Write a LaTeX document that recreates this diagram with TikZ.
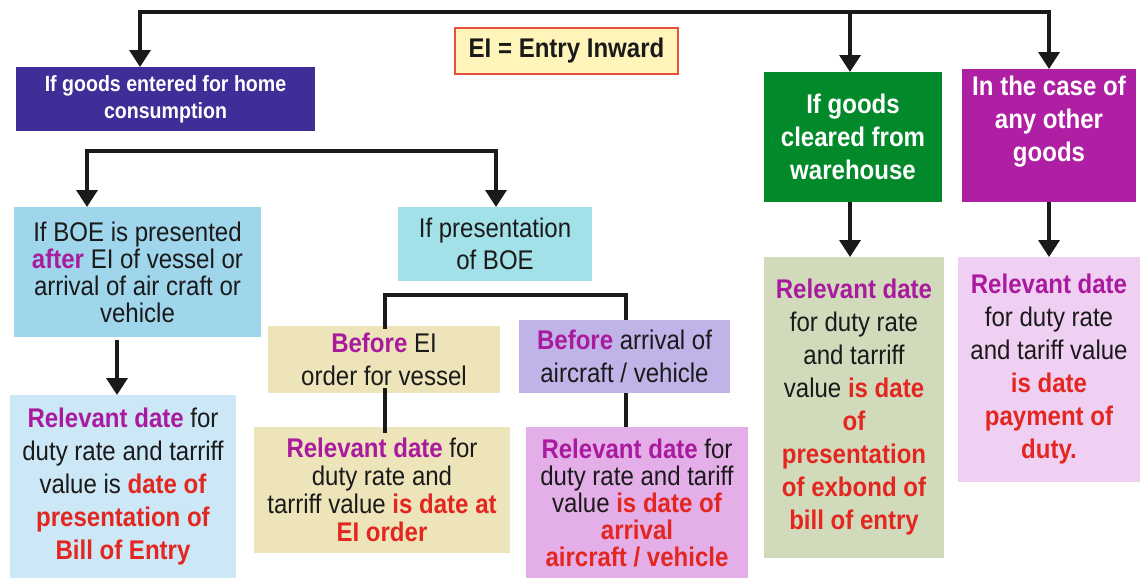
\documentclass[tikz,border=0pt]{standalone}
\usepackage{fontspec}
\setmainfont{Liberation Sans}[FakeStretch=0.89]
\usetikzlibrary{arrows.meta,calc}
\definecolor{ln}{HTML}{1A1A1A}
\definecolor{txt}{HTML}{1A1A1A}
\definecolor{mgc}{HTML}{AA1A9E}
\definecolor{rdc}{HTML}{E3261F}
\definecolor{cA}{HTML}{3F2E98}
\definecolor{cB}{HTML}{A0D6EC}
\definecolor{cC}{HTML}{A3E1E9}
\definecolor{cD}{HTML}{CCE7F5}
\definecolor{cE}{HTML}{EEE4BA}
\definecolor{cG}{HTML}{BFB3E8}
\definecolor{cH}{HTML}{E4AEE8}
\definecolor{cI}{HTML}{D1DBBC}
\definecolor{cJ}{HTML}{EFD0F2}
\definecolor{cK}{HTML}{02892A}
\definecolor{cL}{HTML}{AE1FA3}
\definecolor{cEIf}{HTML}{FFF5BA}
\definecolor{cEId}{HTML}{E8503C}
\newcommand{\mg}[1]{\textcolor{mgc}{\textbf{#1}}}
\newcommand{\rd}[1]{\textcolor{rdc}{\textbf{#1}}}
\begin{document}
\begin{tikzpicture}[x=1pt,y=-1pt,
  box/.style={rectangle, inner sep=0pt, outer sep=0pt, align=center, text=txt},
  fsa/.style={font=\fontsize{22}{27}\selectfont\bfseries},
  fsn/.style={font=\fontsize{27}{27}\selectfont},
  fsw/.style={font=\fontsize{27}{33}\selectfont},
  fsm/.style={font=\fontsize{27}{28}\selectfont},
  fsc/.style={font=\fontsize{27}{32}\selectfont},
  conn/.style={draw=ln, line width=3.5pt},
  tri/.tip={Triangle[width=21pt,length=17pt]},
  arr/.style={conn, -tri},
  darr/.style={conn, tri-tri}]
\useasboundingbox (0,0) rectangle (1147,579);

% boxes
\node[box, fill=cEIf, draw=cEId, line width=1.5pt, minimum width=223pt, minimum height=46pt, font=\fontsize{27}{27}\selectfont\bfseries] (EI) at (566.5,51) {EI = Entry Inward};
\node[box, fill=cA, text=white, fsa, minimum width=299pt, minimum height=64pt] (A) at (165.5,99) {If goods entered for home\\consumption};
\node[box, fill=cB, fsn, minimum width=247pt, minimum height=130pt] (B) at (137.5,272) {If BOE is presented\\\mg{after} EI of vessel or\\arrival of air craft or\\vehicle};
\node[box, fill=cC, fsc, minimum width=194pt, minimum height=74pt] (C) at (495,244) {If presentation\\of BOE};
\node[box, fill=cD, fsw, minimum width=226pt, minimum height=183pt] (D) at (123,486.5) {\mg{Relevant date} for\\duty rate and tarriff\\value is \rd{date of}\\\rd{presentation of}\\\rd{Bill of Entry}};
\node[box, fill=cE, fsw, minimum width=232pt, minimum height=67pt] (E) at (384,359.5) {\mg{Before} EI\\order for vessel};
\node[box, fill=cE, fsm, minimum width=256pt, minimum height=126pt] (F) at (382,490) {\mg{Relevant date} for\\duty rate and\\tarriff value \rd{is date at}\\\rd{EI order}};
\node[box, fill=cG, fsw, minimum width=211pt, minimum height=73pt] (G) at (624.5,356.5) {\mg{Before} arrival of\\aircraft / vehicle};
\node[box, fill=cH, fsn, minimum width=222pt, minimum height=151pt] (H) at (637,502.5) {\mg{Relevant date} for\\duty rate and tariff\\value \rd{is date of}\\\rd{arrival}\\\rd{aircraft / vehicle}};
\node[box, fill=cI, fsw, minimum width=180pt, minimum height=301pt] (I) at (854,407.5) {\mg{Relevant date}\\for duty rate\\and tarriff\\value \rd{is date}\\\rd{of}\\\rd{presentation}\\\rd{of exbond of}\\\rd{bill of entry}};
\node[box, fill=cJ, fsw, minimum width=182pt, minimum height=225pt] (J) at (1049,369.5) {\mg{Relevant date}\\for duty rate\\and tariff value\\\rd{is date}\\\rd{payment of}\\\rd{duty.}};
\node[box, fill=cK, text=white, font=\fontsize{27}{33}\selectfont\bfseries, minimum width=178pt, minimum height=130pt] (K) at (853,137) {If goods\\cleared from\\warehouse};
\node[box, fill=cL, minimum width=174pt, minimum height=133pt] (L) at (1049,135.5) {};
\node[box, text=white, font=\fontsize{27}{33}\selectfont\bfseries] (Lt) at ([yshift=13.5pt]L.center) {In the case of\\any other\\goods};

% connectors
\coordinate (t1) at (140,12);
\coordinate (t2) at (850,12);
\coordinate (t3) at (1049,12);
\draw[darr] (t1 |- A.north) -- (t1) -- (t3) -- (t3 |- L.north);
\draw[arr] (t2) -- (t2 |- K.north);

\coordinate (s1) at (87,151);
\coordinate (s2) at (496,151);
\draw[darr] (s1 |- B.north) -- (s1) -- (s2) -- (s2 |- C.north);

\coordinate (b1) at (117,340);
\draw[arr] (b1) -- (b1 |- D.north);

\coordinate (u1) at (385,295);
\coordinate (u2) at (626,295);
\draw[conn] ([yshift=-3pt]E.north -| u1) -- (u1) -- (u2) -- (G.north -| u2);
\draw[conn] ([yshift=5pt]E.south -| u1) -- ([yshift=-6pt]F.north -| u1);
\draw[conn] (G.south -| u2) -- (H.north -| u2);

\draw[arr] (K.south -| t2) -- (I.north -| t2);
\draw[arr] (L.south -| t3) -- (J.north -| t3);
\end{tikzpicture}
\end{document}
